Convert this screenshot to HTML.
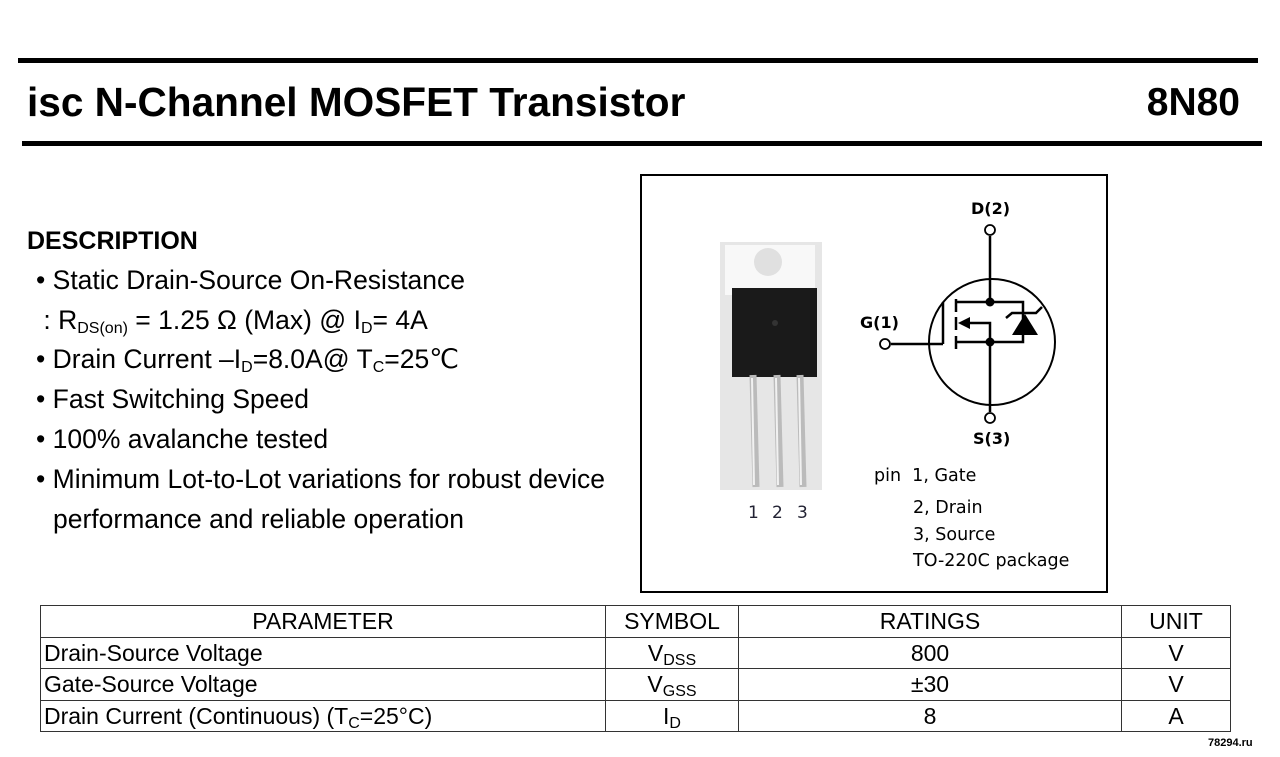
<!DOCTYPE html>
<html><head><meta charset="utf-8"><style>
body{margin:0;width:1280px;height:757px;background:#fff;position:relative;overflow:hidden;font-family:"Liberation Sans",Arial,sans-serif;color:#000}
.a{position:absolute;white-space:nowrap}
.d{font-size:26.5px;left:36px}
sub{font-size:16px;vertical-align:-4px;line-height:0}
table{position:absolute;left:40px;top:605px;width:1191px;border-collapse:collapse;font-size:23px}
td{border:1.5px solid #333;height:30.5px;padding:0 3px;line-height:30px;text-align:center}
td.l{text-align:left}
.s{font-family:"DejaVu Sans",sans-serif;font-size:17.5px}
</style></head><body>
<div class="a" style="left:18px;top:58px;width:1240px;height:5px;background:#000"></div>
<div class="a" style="left:22px;top:141px;width:1240px;height:5px;background:#000"></div>
<div class="a" style="left:27px;top:79px;font-size:40.6px;font-weight:bold">isc N-Channel MOSFET Transistor</div>
<div class="a" style="right:40px;top:81px;font-size:39px;font-weight:bold">8N80</div>
<div class="a" style="left:27px;top:227px;font-size:25px;font-weight:bold">DESCRIPTION</div>
<div class="a d" style="top:265px">• Static Drain-Source On-Resistance</div>
<div class="a d" style="top:305px">&nbsp;: R<sub>DS(on)</sub> = 1.25 Ω (Max) @ I<sub>D</sub>= 4A</div>
<div class="a d" style="top:344px">• Drain Current –I<sub>D</sub>=8.0A@ T<sub>C</sub>=25℃</div>
<div class="a d" style="top:384px">• Fast Switching Speed</div>
<div class="a d" style="top:424px">• 100% avalanche tested</div>
<div class="a d" style="top:464px">• Minimum Lot-to-Lot variations for robust device</div>
<div class="a d" style="top:504px;left:53px">performance and reliable operation</div>
<div class="a" style="left:640px;top:174px;width:464px;height:415px;border:2px solid #000"></div>
<svg class="a" style="left:0;top:0" width="1280" height="757">
<rect x="720" y="242" width="102" height="248" fill="#e6e6e6"/>
<rect x="725" y="245" width="90" height="50" fill="#f8f8f8"/>
<circle cx="768" cy="262" r="14" fill="#e0e0e0"/>
<rect x="732" y="288" width="85" height="89" fill="#1a1a1a"/>
<circle cx="775" cy="323" r="3" fill="#333"/>
<g stroke="#bbb" stroke-width="7"><line x1="753" y1="375" x2="756" y2="487"/><line x1="777" y1="375" x2="780" y2="487"/><line x1="800" y1="375" x2="803" y2="487"/></g>
<g stroke="#fff" stroke-width="2" opacity=".8"><line x1="752" y1="378" x2="754" y2="485"/><line x1="776" y1="378" x2="778" y2="485"/><line x1="799" y1="378" x2="801" y2="485"/></g>
<g fill="none" stroke="#000" stroke-width="2.5">
<circle cx="992" cy="342" r="63" stroke-width="2"/>
<line x1="990" y1="236" x2="990" y2="302"/>
<line x1="990" y1="342" x2="990" y2="412"/>
<line x1="891" y1="344" x2="943" y2="344"/>
<line x1="943" y1="302" x2="943" y2="344"/>
<line x1="956" y1="299" x2="956" y2="312"/><line x1="956" y1="317" x2="956" y2="330"/><line x1="956" y1="336" x2="956" y2="349"/>
<polyline points="956,302 1023,302 1023,342 956,342"/>
<polyline points="962,323 990,323 990,342"/>
<polyline points="1006,318 1012,313 1036,313 1042,307"/>
</g>
<polygon points="958,323 970,317 970,329" fill="#000"/>
<polygon points="1025,314 1012,335 1038,335" fill="#000"/>
<circle cx="990" cy="302" r="4.5"/><circle cx="990" cy="342" r="4.5"/>
<g fill="#fff" stroke="#000" stroke-width="1.8"><circle cx="990" cy="230" r="5"/><circle cx="885" cy="344" r="5"/><circle cx="990" cy="418" r="5"/></g>
<g font-family="DejaVu Sans,sans-serif" font-size="16" font-weight="bold"><text x="971" y="214">D(2)</text><text x="860" y="328">G(1)</text><text x="973" y="444">S(3)</text></g>
<g font-family="DejaVu Sans,sans-serif" font-size="17" fill="#223"><text x="748" y="518">1</text><text x="772" y="518">2</text><text x="797" y="518">3</text></g>
</svg>
<div class="a s" style="left:874px;top:466px">pin&nbsp; 1, Gate</div>
<div class="a s" style="left:913px;top:498px">2, Drain</div>
<div class="a s" style="left:913px;top:525px">3, Source</div>
<div class="a s" style="left:913px;top:551px">TO-220C package</div>
<table>
<tr><td style="width:558px">PARAMETER</td><td style="width:126px">SYMBOL</td><td style="width:376px">RATINGS</td><td>UNIT</td></tr>
<tr><td class="l">Drain-Source Voltage</td><td>V<sub>DSS</sub></td><td>800</td><td>V</td></tr>
<tr><td class="l">Gate-Source Voltage</td><td>V<sub>GSS</sub></td><td>±30</td><td>V</td></tr>
<tr><td class="l">Drain Current (Continuous) (T<sub>C</sub>=25°C)</td><td>I<sub>D</sub></td><td>8</td><td>A</td></tr>
</table>
<div class="a" style="left:1208px;top:737px;font-size:11px;font-weight:bold">78294.ru</div>
</body></html>
